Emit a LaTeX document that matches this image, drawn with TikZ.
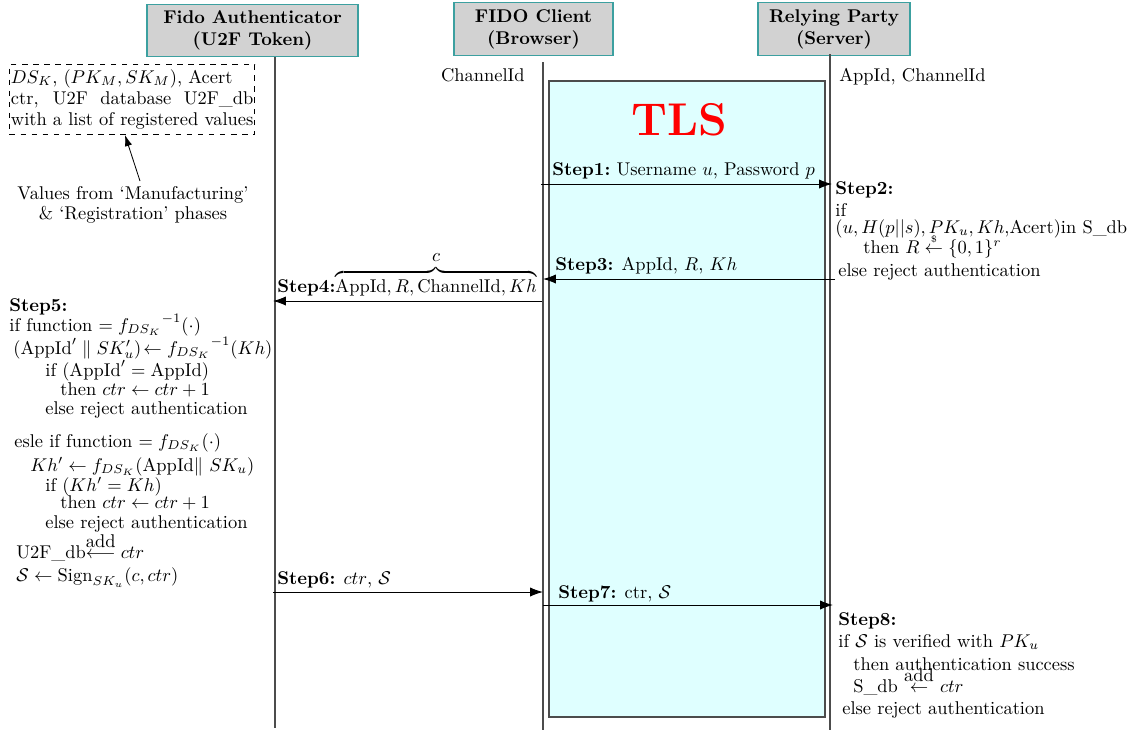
\documentclass[tikz,border=0pt]{standalone}
\usepackage{amsmath}
\usetikzlibrary{arrows.meta}
\definecolor{hdrborder}{RGB}{60,160,160}
\definecolor{tlsfill}{RGB}{223,255,255}
\newlength\storew
\begin{document}
\settowidth\storew{with a list of registered values}
\begin{tikzpicture}[x=0.5417pt,y=-0.5417pt,
  hdr/.style={draw=hdrborder, fill=gray!35, line width=0.6pt, align=center,
    font=\bfseries, inner sep=0pt, minimum height=28.4pt},
  lifeline/.style={draw=black!70, line width=0.7pt},
  msg/.style={draw=black, line width=0.5pt, -{Latex[length=7pt,width=5pt]}},
  txt/.style={anchor=base west, inner sep=0pt},
  ctxt/.style={anchor=base, inner sep=0pt}]
\useasboundingbox (0,0) rectangle (1128,730);

% participants
\node[hdr, minimum width=114.3pt] (fa) at (252.5,30.5) {Fido Authenticator\\(U2F Token)};
\node[hdr, minimum width=86.1pt]  (fc) at (533.5,29)   {FIDO Client\\(Browser)};
\node[hdr, minimum width=82.3pt]  (rp) at (834,29)     {Relying Party\\(Server)};

% lifelines
\coordinate (faTop) at (275,57);  \coordinate (faBot) at (275,728);
\coordinate (fcTop) at (543,62);  \coordinate (fcBot) at (543,730);
\coordinate (rpTop) at (830,54);  \coordinate (rpBot) at (830,730);

% TLS channel
\draw[fill=tlsfill, draw=black!70, line width=0.6pt] (549,81) rectangle (825,717);
\node[red, font=\Huge\bfseries, ctxt] (tls) at (679,135) {TLS};

\draw[lifeline] (faTop) -- (faBot);
\draw[lifeline] (fcTop) -- (fcBot);
\draw[lifeline] (rpTop) -- (rpBot);

% stored values
\node[txt, anchor=base east] (chid) at (525,81) {ChannelId};
\node[txt] (appch) at (839,81) {AppId, ChannelId};

\node[draw, dashed, line width=0.5pt, inner xsep=0.8pt, inner ysep=2.6pt, align=left,
  anchor=north west] (store) at (9,64)
  {$DS_K$, $(PK_M,SK_M)$, Acert\\[-0.4pt]
   \makebox[\storew][s]{ctr, U2F database U2F\_db}\\[-0.4pt]
   with a list of registered values};
\node[ctxt, align=center] (origin) at (133,219)
  {Values from `Manufacturing'\\[-1.2pt] \& `Registration' phases};
\coordinate (originTip) at (140,181);
\draw[-{Latex[length=6pt,width=4pt]}, line width=0.45pt] (originTip) -- (store.south -| 125,0);

% Step 1
\coordinate (s1a) at (541,184); \coordinate (s1b) at (832,184);
\draw[msg] (s1a) -- (s1b);
\node[txt] (l1) at (552,175) {\textbf{Step1:}\ Username $u$, Password $p$};

% Step 2
\node[txt] (s2a) at (835,194) {\textbf{Step2:}};
\node[txt] (s2b) at (835,216) {if};
\node[txt] (s2c) at (835,233) {$(u, H(p||s), PK_u, Kh,$Acert$)$in S\_db};
\node[txt] (s2d) at (863,253) {then $R \overset{\scriptscriptstyle\$}{\leftarrow} \{0,1\}^r$};
\node[txt] (s2e) at (838,276) {else reject authentication};

% Step 3
\coordinate (s3a) at (835,279); \coordinate (s3b) at (543,279);
\draw[msg] (s3a) -- (s3b);
\node[txt] (l3) at (555,270) {\textbf{Step3:} AppId, $R$, $Kh$};

% Step 4
\coordinate (s4a) at (542,301); \coordinate (s4b) at (273,301);
\draw[msg] (s4a) -- (s4b);
\node[txt] (l4) at (277,292)
  {\textbf{Step4:}$\overbrace{\text{AppId}, R, \text{ChannelId}, Kh}^{\mbox{$c$}}$};

% Step 5
\node[txt] (s5a) at (9,311)  {\textbf{Step5:}};
\node[txt] (s5b) at (9,331)  {if function $= {f_{DS_K}}^{-1}(\cdot)$};
\node[txt] (s5c) at (13,354) {$(\text{AppId}' \parallel SK'_u)\!\leftarrow {f_{DS_K}}^{-1}(Kh)$};
\node[txt] (s5d) at (45,376) {if $(\text{AppId}' = \text{AppId})$};
\node[txt] (s5e) at (60,395) {then $ctr \leftarrow ctr + 1$};
\node[txt] (s5f) at (45,414) {else reject authentication};
\node[txt] (s5g) at (14,447) {esle if function $= f_{DS_K}(\cdot)$};
\node[txt] (s5h) at (30,471) {$Kh' \leftarrow f_{DS_K}(\text{AppId}\|\ SK_u)$};
\node[txt] (s5i) at (45,491) {if $(Kh' = Kh)$};
\node[txt] (s5j) at (60,508) {then $ctr \leftarrow ctr + 1$};
\node[txt] (s5k) at (45,528) {else reject authentication};
\node[txt] (s5l) at (16,558) {U2F\_db$\stackrel{\mbox{add}}{\longleftarrow} ctr$};
\node[txt] (s5m) at (16,581) {$\mathcal{S} \leftarrow \text{Sign}_{SK_u}(c, ctr)$};

% Step 6
\coordinate (s6a) at (273,592); \coordinate (s6b) at (543,592);
\draw[msg] (s6a) -- (s6b);
\node[txt] (l6) at (277,584) {\textbf{Step6:} $ctr$, $\mathcal{S}$};

% Step 7
\coordinate (s7a) at (543,605); \coordinate (s7b) at (833,605);
\draw[msg] (s7a) -- (s7b);
\node[txt] (l7) at (558,598) {\textbf{Step7:} ctr, $\mathcal{S}$};

% Step 8
\node[txt] (s8a) at (838,625) {\textbf{Step8:}};
\node[txt] (s8b) at (838,647) {if $\mathcal{S}$ is verified with $PK_u$};
\node[txt] (s8c) at (853,670) {then authentication success};
\node[txt] (s8d) at (853,692) {S\_db $\stackrel{\mbox{add}}{\leftarrow}$ $ctr$};
\node[txt] (s8e) at (842,714) {else reject authentication};
\end{tikzpicture}
\end{document}
